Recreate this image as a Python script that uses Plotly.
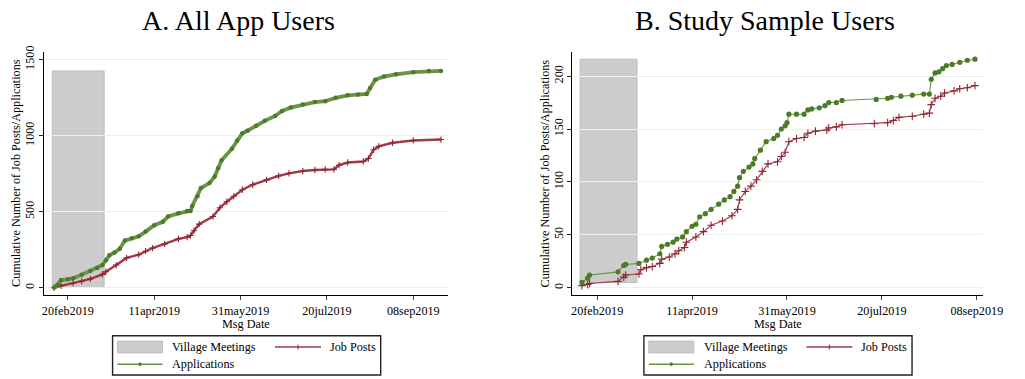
import plotly.graph_objects as go

# ---------------- data ----------------
all_app_dates = ["2019-02-12", "2019-02-14", "2019-02-16", "2019-02-20", "2019-02-23", "2019-02-28",
                 "2019-03-05", "2019-03-09", "2019-03-12", "2019-03-14", "2019-03-16", "2019-03-19",
                 "2019-03-22", "2019-03-25", "2019-03-29", "2019-04-02", "2019-04-06", "2019-04-11",
                 "2019-04-16", "2019-04-19", "2019-04-25", "2019-04-30", "2019-05-02", "2019-05-03",
                 "2019-05-06", "2019-05-08", "2019-05-13", "2019-05-16", "2019-05-18", "2019-05-20",
                 "2019-05-26", "2019-05-29", "2019-06-01", "2019-06-04", "2019-06-09", "2019-06-14",
                 "2019-06-20", "2019-06-24", "2019-06-29", "2019-07-06", "2019-07-13", "2019-07-19",
                 "2019-07-25", "2019-08-01", "2019-08-07", "2019-08-12", "2019-08-14", "2019-08-17",
                 "2019-08-22", "2019-08-29", "2019-09-08", "2019-09-17", "2019-09-24"]
all_app_values = [2, 20, 49, 55, 62, 85,
                  110, 130, 149, 181, 213, 232,
                  256, 310, 325, 338, 369, 411,
                  433, 468, 489, 505, 505, 537,
                  601, 655, 688, 731, 785, 838,
                  914, 968, 1015, 1032, 1065, 1097,
                  1129, 1162, 1184, 1205, 1220, 1226,
                  1248, 1265, 1270, 1274, 1313, 1367,
                  1388, 1403, 1417, 1425, 1425]

all_job_dates = ["2019-02-12", "2019-02-16", "2019-02-23", "2019-02-28", "2019-03-05", "2019-03-12",
                 "2019-03-14", "2019-03-20", "2019-03-26", "2019-04-02", "2019-04-06", "2019-04-10",
                 "2019-04-17", "2019-04-25", "2019-04-30", "2019-05-02", "2019-05-04", "2019-05-07",
                 "2019-05-15", "2019-05-19", "2019-05-23", "2019-05-27", "2019-06-01", "2019-06-07",
                 "2019-06-15", "2019-06-22", "2019-06-28", "2019-07-06", "2019-07-13", "2019-07-19",
                 "2019-07-24", "2019-07-27", "2019-08-01", "2019-08-10", "2019-08-13", "2019-08-16",
                 "2019-08-19", "2019-08-27", "2019-09-08", "2019-09-24"]
all_job_values = [0, 13, 30, 42, 58, 88,
                  105, 149, 196, 217, 240, 261,
                  288, 321, 332, 343, 375, 418,
                  468, 526, 565, 601, 644, 677,
                  709, 735, 752, 767, 774, 778,
                  778, 806, 823, 830, 849, 907,
                  929, 953, 968, 974]

study_app_dates = ["2019-02-12", "2019-02-15", "2019-02-16", "2019-03-03", "2019-03-06", "2019-03-07",
                   "2019-03-14", "2019-03-18", "2019-03-21", "2019-03-25", "2019-03-26", "2019-03-29",
                   "2019-04-01", "2019-04-03", "2019-04-06", "2019-04-08", "2019-04-11", "2019-04-13",
                   "2019-04-15", "2019-04-18", "2019-04-21", "2019-04-25", "2019-04-28", "2019-05-01",
                   "2019-05-03", "2019-05-05", "2019-05-06", "2019-05-08", "2019-05-11", "2019-05-13",
                   "2019-05-14", "2019-05-17", "2019-05-20", "2019-05-24", "2019-05-26", "2019-05-28",
                   "2019-05-30", "2019-05-31", "2019-06-01", "2019-06-05", "2019-06-09", "2019-06-11",
                   "2019-06-13", "2019-06-17", "2019-06-20", "2019-06-22", "2019-06-26", "2019-06-29",
                   "2019-07-17", "2019-07-23", "2019-07-25", "2019-07-30", "2019-08-05", "2019-08-11",
                   "2019-08-14", "2019-08-15", "2019-08-17", "2019-08-19", "2019-08-21", "2019-08-23",
                   "2019-08-26", "2019-08-30", "2019-09-03", "2019-09-07"]
study_app_values = [5, 9, 12, 15, 21, 22,
                    23, 26, 28, 32, 39, 41,
                    43, 46, 48, 53, 58, 60,
                    67, 70, 74, 79, 83, 86,
                    91, 96, 104, 110, 114, 117,
                    122, 130, 138, 141, 144, 150,
                    153, 156, 164, 164, 164, 168,
                    169, 170, 172, 175, 175, 177,
                    178, 179, 180, 181, 182, 183,
                    183, 197, 203, 204, 207, 210,
                    211, 213, 215, 216]

study_job_dates = ["2019-02-12", "2019-02-15", "2019-02-16", "2019-03-03", "2019-03-06", "2019-03-07",
                   "2019-03-14", "2019-03-15", "2019-03-18", "2019-03-21", "2019-03-25", "2019-03-26",
                   "2019-03-30", "2019-04-02", "2019-04-04", "2019-04-07", "2019-04-08", "2019-04-13",
                   "2019-04-17", "2019-04-21", "2019-04-27", "2019-05-02", "2019-05-05", "2019-05-06",
                   "2019-05-09", "2019-05-12", "2019-05-15", "2019-05-18", "2019-05-21", "2019-05-26",
                   "2019-05-28", "2019-05-30", "2019-06-01", "2019-06-05", "2019-06-09", "2019-06-11",
                   "2019-06-15", "2019-06-21", "2019-06-22", "2019-06-26", "2019-06-29", "2019-07-16",
                   "2019-07-23", "2019-07-26", "2019-07-29", "2019-08-05", "2019-08-11", "2019-08-14",
                   "2019-08-15", "2019-08-17", "2019-08-20", "2019-08-22", "2019-08-27", "2019-08-30",
                   "2019-09-03", "2019-09-07"]
study_job_values = [2, 3, 4, 6, 10, 12,
                    13, 17, 19, 20, 23, 27,
                    29, 32, 35, 38, 43, 48,
                    53, 59, 63, 68, 74, 83,
                    91, 96, 102, 110, 117, 119,
                    124, 128, 138, 141, 142, 146,
                    148, 149, 151, 152, 154, 155,
                    156, 158, 161, 162, 164, 165,
                    173, 179, 181, 184, 186, 188,
                    189, 191]

village_meetings = ["2019-02-11", "2019-03-13"]

tick_dates = ["2019-02-20", "2019-04-11", "2019-05-31", "2019-07-20", "2019-09-08"]
tick_labels = ["20feb2019", "11apr2019", "31may2019", "20jul2019", "08sep2019"]

panel_titles = ["A. All App Users", "B. Study Sample Users"]
y_title = "Cumulative Number of Job Posts/Applications"
x_title = "Msg Date"
legend_labels = ["Village Meetings", "Job Posts", "Applications"]

# ---------------- styling ----------------
W, H = 1025, 379
FONT = "Liberation Serif"
GREEN_M = "#4d7a26"
GREEN_L = "#6a9548"
RED_M = "#8e2535"
RED_L = "#a03a47"
GRID = "#e8f0f1"
SHADE = "#cccccc"
SHADE_LINE = "#bdbdbd"
FS = 12.2


def px(x):
    return x / W


def py(y):
    return 1 - y / H


fig = go.Figure()

panels = [
    dict(xa="x", ya="y", jd=all_job_dates, jv=all_job_values, ad=all_app_dates, av=all_app_values,
         xdom=[px(43), px(456)], xr=["2019-02-06 05:00", "2019-09-28 05:00"], yr=[-50, 1551],
         ytick=[0, 500, 1000, 1500], app_w=3.8, app_ms=4.5, job_w=2.4, job_ms=4.5, off=0, cx=242, ytx=15),
    dict(xa="x2", ya="y2", jd=study_job_dates, jv=study_job_values, ad=study_app_dates, av=study_app_values,
         xdom=[px(583), px(1003)], xr=["2019-02-07", "2019-09-11 12:00"], yr=[-7.2, 223],
         ytick=[0, 50, 100, 150, 200], app_w=1.1, app_ms=5.2, job_w=1.1, job_ms=5.5, off=543, cx=780, ytx=555),
]

shapes = []
annotations = []
for i, p in enumerate(panels):
    fig.add_trace(go.Scatter(
        x=p["jd"], y=p["jv"], mode="lines+markers", name=legend_labels[1], xaxis=p["xa"], yaxis=p["ya"],
        line=dict(color=RED_L, width=p["job_w"]),
        marker=dict(symbol="cross-thin", size=p["job_ms"], line=dict(color=RED_M, width=1.1), color=RED_M),
        showlegend=False))
    fig.add_trace(go.Scatter(
        x=p["ad"], y=p["av"], mode="lines+markers", name=legend_labels[2], xaxis=p["xa"], yaxis=p["ya"],
        line=dict(color=GREEN_L, width=p["app_w"]),
        marker=dict(symbol="circle", size=p["app_ms"], color=GREEN_M),
        showlegend=False))
    # village meetings shaded period, spanning the range of the applications series
    shapes.append(dict(type="rect", xref=p["xa"], yref=p["ya"], x0=village_meetings[0], x1=village_meetings[1],
                       y0=min(p["av"]), y1=max(p["av"]), fillcolor=SHADE,
                       line=dict(color=SHADE_LINE, width=1), layer="below"))

    sfx = "" if i == 0 else "2"
    fig.update_layout(**{
        "xaxis" + sfx: dict(domain=p["xdom"], type="date", range=p["xr"], tickvals=tick_dates, ticktext=tick_labels,
                            showgrid=False, showline=True, linecolor="#000", linewidth=1, ticks="outside",
                            ticklen=4, tickcolor="#444", zeroline=False,
                            tickfont=dict(family=FONT, size=FS, color="#000"), anchor=p["ya"]),
        "yaxis" + sfx: dict(domain=[py(294), py(46.5)], range=p["yr"], tickvals=p["ytick"], tickangle=-90,
                            showgrid=True, gridcolor=GRID, gridwidth=1, showline=True, linecolor="#000",
                            linewidth=1, ticks="outside", ticklen=4, tickcolor="#222", zeroline=False,
                            tickfont=dict(family=FONT, size=FS, color="#000"), anchor=p["xa"]),
    })

    o = p["off"]
    # titles
    annotations.append(dict(text=panel_titles[i], x=px(p["cx"]), y=py(14.5), xref="paper", yref="paper",
                            showarrow=False, xanchor="center", yanchor="middle",
                            font=dict(family=FONT, size=28, color="#000")))
    xc = (p["xdom"][0] + p["xdom"][1]) / 2
    annotations.append(dict(text=x_title, x=xc, y=py(323.5), xref="paper", yref="paper", showarrow=False,
                            xanchor="center", yanchor="middle", font=dict(family=FONT, size=FS, color="#000")))
    annotations.append(dict(text=y_title, x=px(p["ytx"]), y=py(170), xref="paper",
                            yref="paper", showarrow=False, textangle=-90, xanchor="center", yanchor="middle",
                            font=dict(family=FONT, size=FS, color="#000")))

    # legend box (drawn by hand to match layout)
    shapes.append(dict(type="rect", xref="paper", yref="paper", x0=px(113 + o), x1=px(387 + o),
                       y0=py(375), y1=py(335), line=dict(color="#222", width=1.4), fillcolor="white"))
    shapes.append(dict(type="rect", xref="paper", yref="paper", x0=px(118 + o), x1=px(164 + o),
                       y0=py(352.5), y1=py(340.5), line=dict(color=SHADE_LINE, width=1), fillcolor=SHADE))
    shapes.append(dict(type="line", xref="paper", yref="paper", x0=px(279 + o), x1=px(326 + o),
                       y0=py(346.5), y1=py(346.5), line=dict(color=RED_L, width=1.3)))
    shapes.append(dict(type="line", xref="paper", yref="paper", x0=px(302.5 + o), x1=px(302.5 + o),
                       y0=py(344), y1=py(349), line=dict(color=RED_M, width=1)))
    shapes.append(dict(type="line", xref="paper", yref="paper", x0=px(118 + o), x1=px(164 + o),
                       y0=py(364), y1=py(364), line=dict(color=GREEN_L, width=1.3)))
    shapes.append(dict(type="circle", xref="paper", yref="paper", x0=px(139.5 + o), x1=px(142.5 + o),
                       y0=py(365.5), y1=py(362.5), line=dict(color=GREEN_M, width=0.5), fillcolor=GREEN_M))
    for txt, lx, ly in [(legend_labels[0], 172, 346.5), (legend_labels[1], 333, 346.5), (legend_labels[2], 172, 364)]:
        annotations.append(dict(text=txt, x=px(lx + o), y=py(ly), xref="paper", yref="paper", showarrow=False,
                                xanchor="left", yanchor="middle", font=dict(family=FONT, size=FS, color="#000")))

fig.update_layout(width=W, height=H, margin=dict(l=0, r=0, t=0, b=0), paper_bgcolor="white",
                  plot_bgcolor="white", showlegend=False, shapes=shapes, annotations=annotations,
                  font=dict(family=FONT))

fig.write_html("out.html")
